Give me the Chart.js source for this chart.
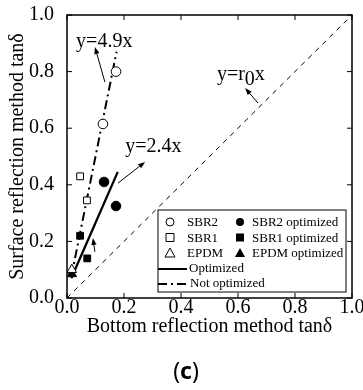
<!DOCTYPE html>
<html>
<head>
<meta charset="utf-8">
<script src="https://cdn.jsdelivr.net/npm/chart.js@4/dist/chart.umd.min.js"></script>
<style>
  html, body { margin: 0; padding: 0; background: #fff; }
</style>
</head>
<body>
<canvas id="chart" width="363" height="390"></canvas>
<script>
const tickValues = [0, 0.2, 0.4, 0.6, 0.8, 1.0]

// not optimized (open markers)
const sbr2X = [0.126, 0.172]
const sbr2Y = [0.615, 0.80]
const sbr1X = [0.046, 0.070]
const sbr1Y = [0.43, 0.345]
const epdmX = [0.017]
const epdmY = [0.10]

// optimized (filled markers)
const sbr2OptX = [0.130, 0.172]
const sbr2OptY = [0.41, 0.325]
const sbr1OptX = [0.046, 0.071]
const sbr1OptY = [0.22, 0.14]
const epdmOptX = [0.017]
const epdmOptY = [0.085]

// fitted lines
const optLineX = [0.015, 0.178]
const optLineY = [0.07, 0.445]
const notOptLineX = [0.015, 0.174]
const notOptLineY = [0.075, 0.87]
const refLineX = [0, 1]
const refLineY = [0, 1]

const serif = "'Liberation Serif', 'Times New Roman', serif"

const pts = (xs, ys) => xs.map((x, i) => ({ x: x, y: ys[i] }))

function marker(label, xs, ys, style, filled, radius) {
  return {
    type: 'scatter',
    label: label,
    data: pts(xs, ys),
    pointStyle: style,
    pointRadius: radius,
    pointBackgroundColor: filled ? '#000' : '#fff',
    pointBorderColor: '#000',
    pointBorderWidth: 1,
    order: 1
  }
}

function fitLine(label, xs, ys, width, dash) {
  return {
    type: 'line',
    label: label,
    data: pts(xs, ys),
    borderColor: '#000',
    borderWidth: width,
    borderDash: dash,
    pointRadius: 0,
    fill: false,
    order: 2
  }
}

function arrow(ctx, x1, y1, x2, y2) {
  const ang = Math.atan2(y2 - y1, x2 - x1)
  const len = 7, w = 2.6
  ctx.beginPath()
  ctx.moveTo(x1, y1)
  ctx.lineTo(x2 - Math.cos(ang) * len * 0.8, y2 - Math.sin(ang) * len * 0.8)
  ctx.stroke()
  ctx.beginPath()
  ctx.moveTo(x2, y2)
  ctx.lineTo(x2 - Math.cos(ang) * len - Math.sin(ang) * w, y2 - Math.sin(ang) * len + Math.cos(ang) * w)
  ctx.lineTo(x2 - Math.cos(ang) * len + Math.sin(ang) * w, y2 - Math.sin(ang) * len - Math.cos(ang) * w)
  ctx.closePath()
  ctx.fill()
}

function drawMark(ctx, style, filled, cx, cy) {
  ctx.beginPath()
  if (style === 'circle') {
    ctx.arc(cx, cy, 4, 0, Math.PI * 2)
  } else if (style === 'rect') {
    ctx.rect(cx - 4, cy - 4, 8, 8)
  } else {
    ctx.moveTo(cx, cy - 5)
    ctx.lineTo(cx + 5, cy + 4)
    ctx.lineTo(cx - 5, cy + 4)
    ctx.closePath()
  }
  if (filled) ctx.fill()
  else ctx.stroke()
}

const decorations = {
  id: 'decorations',
  afterDraw(chart) {
    const { ctx, chartArea: a, scales: { x, y } } = chart
    const px = v => x.getPixelForValue(v)
    const py = v => y.getPixelForValue(v)
    ctx.save()
    ctx.strokeStyle = '#000'
    ctx.fillStyle = '#000'

    // frame and inward ticks on all sides
    ctx.lineWidth = 1.5
    ctx.strokeRect(a.left, a.top, a.right - a.left, a.bottom - a.top)
    ctx.lineWidth = 1
    ctx.beginPath()
    tickValues.forEach(v => {
      ctx.moveTo(px(v), a.bottom); ctx.lineTo(px(v), a.bottom - 5)
      ctx.moveTo(px(v), a.top); ctx.lineTo(px(v), a.top + 5)
      ctx.moveTo(a.left, py(v)); ctx.lineTo(a.left + 5, py(v))
      ctx.moveTo(a.right, py(v)); ctx.lineTo(a.right - 5, py(v))
    })
    ctx.stroke()

    // annotations
    ctx.font = '20px ' + serif
    ctx.textBaseline = 'alphabetic'
    ctx.textAlign = 'left'
    ctx.fillText('y=4.9x', px(0.032), py(0.887))
    ctx.fillText('y=2.4x', px(0.204), py(0.516))
    let tx = px(0.526), ty = py(0.770)
    ctx.fillText('y=r', tx, ty)
    tx += ctx.measureText('y=r').width
    ctx.fillText('0', tx, ty + 5)
    tx += ctx.measureText('0').width
    ctx.fillText('x', tx, ty)

    ctx.lineWidth = 1
    arrow(ctx, px(0.133), py(0.763), px(0.098), py(0.887))
    arrow(ctx, px(0.670), py(0.689), px(0.625), py(0.742))
    arrow(ctx, px(0.179), py(0.406), px(0.274), py(0.481))
    arrow(ctx, px(0.098), py(0.163), px(0.091), py(0.212))

    // legend
    const lx = 158, ly = 210, lw = 188, lh = 82
    ctx.fillStyle = '#fff'
    ctx.fillRect(lx, ly, lw, lh)
    ctx.strokeStyle = '#000'
    ctx.lineWidth = 1
    ctx.strokeRect(lx, ly, lw, lh)
    ctx.fillStyle = '#000'
    ctx.font = '13px ' + serif
    ctx.textBaseline = 'middle'
    const rows = [
      ['circle', 'SBR2', 'SBR2 optimized'],
      ['rect', 'SBR1', 'SBR1 optimized'],
      ['triangle', 'EPDM', 'EPDM optimized']
    ]
    rows.forEach((r, i) => {
      const cy = ly + 12 + i * 15.5
      drawMark(ctx, r[0], false, lx + 12, cy)
      ctx.fillText(r[1], lx + 29, cy + 1)
      drawMark(ctx, r[0], true, lx + 82, cy)
      ctx.fillText(r[2], lx + 94, cy + 1)
    })
    ctx.lineWidth = 2
    ctx.beginPath()
    ctx.moveTo(lx, ly + 59); ctx.lineTo(lx + 29, ly + 59)
    ctx.stroke()
    ctx.fillText('Optimized', lx + 31, ly + 59)
    ctx.setLineDash([9, 4, 2, 4])
    ctx.beginPath()
    ctx.moveTo(lx, ly + 74); ctx.lineTo(lx + 30, ly + 74)
    ctx.stroke()
    ctx.setLineDash([])
    ctx.fillText('Not optimized', lx + 32, ly + 74)

    // axis titles
    ctx.font = '20px ' + serif
    ctx.textAlign = 'center'
    ctx.textBaseline = 'alphabetic'
    ctx.fillText('Bottom reflection method tan\u03b4', (a.left + a.right) / 2, 332)
    ctx.save()
    ctx.translate(23, (a.top + a.bottom) / 2)
    ctx.rotate(-Math.PI / 2)
    ctx.fillText('Surface reflection method tan\u03b4', 0, 0)
    ctx.restore()

    // panel label
    const sans = "'Noto Sans', sans-serif"
    ctx.font = '23px ' + sans
    const w1 = ctx.measureText('(').width
    ctx.font = 'bold 23px ' + sans
    const w2 = ctx.measureText('c').width
    let cx = 186 - (w1 * 2 + w2) / 2
    ctx.textAlign = 'left'
    ctx.font = '23px ' + sans
    ctx.fillText('(', cx, 379)
    ctx.font = 'bold 23px ' + sans
    ctx.fillText('c', cx + w1, 379)
    ctx.font = '23px ' + sans
    ctx.fillText(')', cx + w1 + w2, 379)
    ctx.restore()
  }
}

new Chart(document.getElementById('chart'), {
  data: {
    datasets: [
      marker('SBR2', sbr2X, sbr2Y, 'circle', false, 4.8),
      marker('SBR1', sbr1X, sbr1Y, 'rect', false, 4.8),
      marker('EPDM', epdmX, epdmY, 'triangle', false, 5.5),
      marker('SBR2 optimized', sbr2OptX, sbr2OptY, 'circle', true, 4.8),
      marker('SBR1 optimized', sbr1OptX, sbr1OptY, 'rect', true, 4.8),
      marker('EPDM optimized', epdmOptX, epdmOptY, 'triangle', true, 5.5),
      fitLine('Optimized', optLineX, optLineY, 2.2, []),
      fitLine('Not optimized', notOptLineX, notOptLineY, 2, [9, 4, 2, 4]),
      fitLine('y=r0x', refLineX, refLineY, 1, [5, 5])
    ]
  },
  options: {
    responsive: false,
    animation: false,
    layout: { padding: { top: 15, right: 11, bottom: 0, left: 0 } },
    plugins: {
      legend: { display: false },
      tooltip: { enabled: false }
    },
    scales: {
      x: {
        type: 'linear',
        min: 0,
        max: 1,
        afterBuildTicks: s => { s.ticks = tickValues.map(v => ({ value: v })) },
        afterFit: s => { s.height = 92; s.paddingLeft = 0; s.paddingRight = 0 },
        grid: { display: false },
        border: { display: false },
        ticks: {
          color: '#000',
          padding: -10,
          maxRotation: 0,
          font: { family: serif, size: 20 },
          callback: v => v.toFixed(1)
        }
      },
      y: {
        type: 'linear',
        min: 0,
        max: 1,
        afterBuildTicks: s => { s.ticks = tickValues.map(v => ({ value: v })) },
        afterFit: s => { s.width = 67; s.paddingTop = 0; s.paddingBottom = 0 },
        grid: { display: false },
        border: { display: false },
        ticks: {
          color: '#000',
          padding: 5,
          font: { family: serif, size: 20 },
          callback: v => v.toFixed(1)
        }
      }
    }
  },
  plugins: [decorations]
})
</script>
</body>
</html>
